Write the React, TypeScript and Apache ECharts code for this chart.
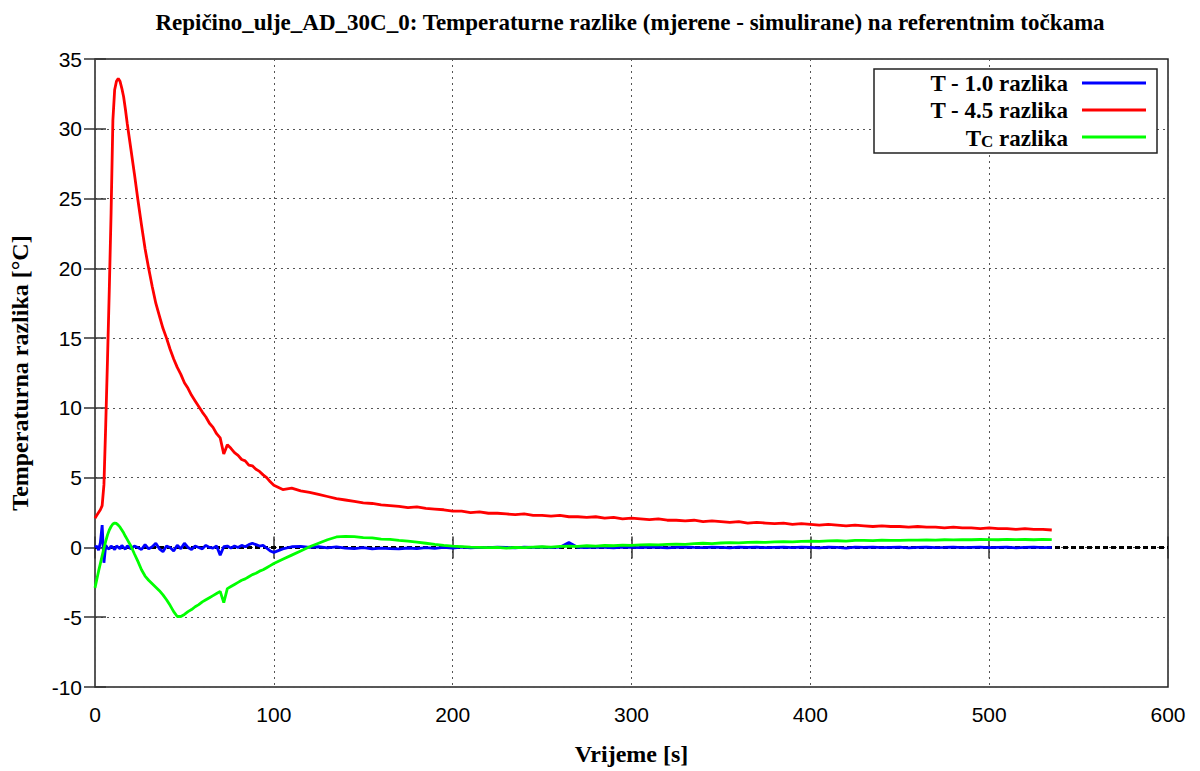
import React, { useEffect, useRef } from "react";
import * as echarts from "echarts";

// time samples [s]
const tEarly = [0, 1, 2, 3, 4, 5, 6, 7, 8, 9, 10, 11, 12, 13, 14, 15, 16, 17, 18, 19, 20];
const tMid = [22, 24, 26, 28, 30, 32, 34, 36, 38, 40, 42, 44, 46, 48, 50, 52, 54, 56, 58, 60,
  62, 64, 66, 68, 70, 72, 74, 76, 78, 80, 82, 84, 86, 88, 90, 92, 94, 96, 98, 100];
const tLate = [105, 110, 115, 120, 125, 130, 135, 140, 145, 150, 155, 160, 165, 170, 175, 180, 185, 190, 195, 200,
  205, 210, 215, 220, 225, 230, 235, 240, 245, 250, 255, 260, 265, 270, 275, 280, 285, 290, 295, 300,
  305, 310, 315, 320, 325, 330, 335, 340, 345, 350, 355, 360, 365, 370, 375, 380, 385, 390, 395, 400,
  405, 410, 415, 420, 425, 430, 435, 440, 445, 450, 455, 460, 465, 470, 475, 480, 485, 490, 495, 500,
  505, 510, 515, 520, 525, 530, 535];

// T - 1.0 razlika
const blueEarly = [0.0, 0.1, -0.2, 0.35, 1.6, -1.1, 0.15, -0.05, -0.1, 0.1, 0.0, -0.15, 0.1, 0.02, -0.1, 0.15, 0.0, -0.12, 0.1, 0.05, -0.1];
const blueMid = [0.1, 0.0, -0.15, 0.2, -0.1, 0.05, 0.3, -0.1, -0.3, 0.1, 0.0, -0.25, 0.15, -0.1, 0.3, 0.0, -0.15, 0.1, 0.0, -0.1,
  0.15, 0.0, -0.05, 0.1, -0.55, 0.05, 0.1, -0.05, 0.1, 0.0, 0.15, 0.05, 0.2, 0.3, 0.2, 0.1, 0.15, -0.05, -0.25, -0.35];
const blueLate = [-0.1, 0.05, 0.08, 0.0, 0.05, -0.03, 0.04, -0.05, -0.08, -0.02, -0.1, -0.05, -0.08, -0.1, -0.04, -0.08, -0.02, -0.06, 0.0, -0.04,
  0.02, -0.03, 0.01, -0.02, 0.03, 0.0, -0.03, 0.02, 0.0, 0.03, -0.02, 0.02, 0.35, 0.0, -0.02, 0.03, 0.0, -0.03, 0.02, 0.0,
  -0.02, 0.02, 0.0, -0.03, 0.01, 0.03, 0.0, -0.02, 0.02, 0.0, -0.03, 0.02, 0.0, 0.03, -0.02, 0.0, 0.02, -0.02, 0.03, 0.0,
  -0.03, 0.02, 0.0, -0.05, 0.02, 0.0, 0.03, -0.02, 0.0, 0.02, -0.03, 0.0, 0.02, -0.02, 0.0, 0.03, -0.02, 0.0, 0.02, -0.02,
  0.0, 0.02, -0.03, 0.0, 0.02, -0.02, 0.0];

// T - 4.5 razlika
const redEarly = [2.1, 2.3, 2.5, 2.7, 3.0, 4.5, 8.8, 13.5, 18.5, 24.0, 30.6, 32.8, 33.4, 33.6, 33.4, 32.9, 32.3, 31.4, 30.4, 29.5, 28.6];
const redMid = [26.8, 24.9, 23.1, 21.4, 20.0, 18.7, 17.5, 16.6, 15.7, 15.0, 14.2, 13.5, 12.9, 12.4, 11.8, 11.4, 10.9, 10.5, 10.1, 9.7,
  9.35, 8.9, 8.6, 8.15, 7.85, 6.7, 7.35, 7.1, 6.8, 6.6, 6.3, 6.2, 5.9, 5.85, 5.6, 5.45, 5.2, 5.0, 4.7, 4.45];
const redLate = [4.15, 4.25, 4.05, 3.95, 3.8, 3.65, 3.5, 3.4, 3.3, 3.2, 3.15, 3.05, 3.0, 2.95, 2.85, 2.9, 2.8, 2.75, 2.7, 2.6,
  2.6, 2.5, 2.55, 2.45, 2.45, 2.4, 2.35, 2.4, 2.3, 2.3, 2.25, 2.3, 2.2, 2.2, 2.15, 2.2, 2.1, 2.15, 2.05, 2.1,
  2.05, 2.0, 2.05, 1.95, 1.95, 1.9, 1.95, 1.85, 1.9, 1.85, 1.8, 1.85, 1.75, 1.8, 1.75, 1.7, 1.75, 1.65, 1.7, 1.65,
  1.6, 1.65, 1.6, 1.55, 1.6, 1.55, 1.5, 1.55, 1.5, 1.5, 1.45, 1.5, 1.45, 1.45, 1.4, 1.45, 1.4, 1.4, 1.35, 1.4,
  1.35, 1.35, 1.3, 1.35, 1.3, 1.3, 1.25];

// Tc razlika
const greenEarly = [-2.9, -2.3, -1.7, -1.15, -0.6, -0.05, 0.45, 0.9, 1.25, 1.5, 1.68, 1.75, 1.72, 1.6, 1.45, 1.25, 1.05, 0.8, 0.58, 0.35, 0.12];
const greenMid = [-0.45, -1.0, -1.6, -2.05, -2.35, -2.6, -2.85, -3.1, -3.4, -3.75, -4.15, -4.6, -4.95, -4.95, -4.8, -4.6, -4.45, -4.25, -4.1, -3.9,
  -3.75, -3.6, -3.45, -3.3, -3.15, -3.95, -2.95, -2.8, -2.65, -2.5, -2.35, -2.25, -2.1, -1.95, -1.85, -1.7, -1.6, -1.45, -1.3, -1.15];
const greenLate = [-0.85, -0.55, -0.25, 0.05, 0.3, 0.55, 0.75, 0.8, 0.78, 0.7, 0.68, 0.6, 0.58, 0.5, 0.45, 0.38, 0.3, 0.22, 0.15, 0.1,
  0.06, 0.02, 0.0, -0.02, 0.0, -0.05, 0.0, -0.02, 0.03, 0.05, 0.03, 0.08, 0.1, 0.08, 0.12, 0.1, 0.14, 0.12, 0.16, 0.15,
  0.18, 0.2, 0.18, 0.22, 0.24, 0.22, 0.27, 0.3, 0.28, 0.32, 0.34, 0.33, 0.37, 0.38, 0.36, 0.4, 0.42, 0.4, 0.44, 0.45,
  0.44, 0.47, 0.48, 0.46, 0.5, 0.5, 0.49, 0.52, 0.51, 0.5, 0.53, 0.52, 0.54, 0.53, 0.55, 0.54, 0.56, 0.55, 0.57, 0.56,
  0.55, 0.58, 0.56, 0.57, 0.55, 0.58, 0.56];

const xTicks = { min: 0, max: 600, interval: 100 };
const yTicks = { min: -10, max: 35, interval: 5 };

const titleText = "Repičino_ulje_AD_30C_0: Temperaturne razlike (mjerene - simulirane) na referentnim točkama";
const xName = "Vrijeme [s]";
const yName = "Temperaturna razlika [°C]";
const seriesNames = ["T - 1.0 razlika", "T - 4.5 razlika", "Tc razlika"];
const seriesColors = ["#0000ff", "#ff0000", "#00ff00"];

function zip(ts: number[][], vs: number[][]): [number, number][] {
  const out: [number, number][] = [];
  ts.forEach((seg, s) => seg.forEach((t, i) => {
    const v = vs[s][i];
    if (v !== undefined) out.push([t, v]);
  }));
  return out;
}

const SERIF = '"Liberation Serif", "Times New Roman", serif';
const SANS = '"Liberation Sans", Arial, sans-serif';

export default function App() {
  const ref = useRef<HTMLDivElement>(null);
  useEffect(() => {
    const chart = echarts.init(ref.current!, null, { renderer: "svg" });
    const T = [tEarly, tMid, tLate];
    const blue = zip(T, [blueEarly, blueMid, blueLate]);
    const red = zip(T, [redEarly, redMid, redLate]);
    const green = zip(T, [greenEarly, greenMid, greenLate]);

    const gridLine = { show: true, lineStyle: { color: "#555", width: 1, type: [2, 4] as any } };
    const tick = { show: true, inside: true, length: 11, lineStyle: { color: "#333", width: 1.5 } };

    const legendRows = [83, 110, 137];
    const legendGraphics: any[] = [
      {
        type: "rect",
        shape: { x: 874, y: 69, width: 283, height: 84 },
        style: { fill: "#fff", stroke: "#222", lineWidth: 1.5 },
        z: 100,
      },
    ];
    legendRows.forEach((y, i) => {
      const isTc = i === 2;
      legendGraphics.push({
        type: "text",
        x: 1068,
        y,
        z: 101,
        style: isTc
          ? {
              text: "{t|T}{c|C}{t| razlika}",
              textAlign: "right",
              textVerticalAlign: "middle",
              fill: "#000",
              rich: {
                t: { fontFamily: SERIF, fontWeight: "bold", fontSize: 23, lineHeight: 25, verticalAlign: "bottom" },
                c: { fontFamily: SERIF, fontWeight: "bold", fontSize: 17, lineHeight: 25, verticalAlign: "bottom" },
              },
            }
          : {
              text: seriesNames[i],
              textAlign: "right",
              textVerticalAlign: "middle",
              font: `bold 23px ${SERIF}`,
              fill: "#000",
            },
      });
      legendGraphics.push({
        type: "line",
        z: 101,
        shape: { x1: 1082, y1: y, x2: 1146, y2: y },
        style: { stroke: seriesColors[i], lineWidth: 3 },
      });
    });

    const option: any = {
      animation: false,
      backgroundColor: "#fff",
      grid: { left: 95, right: 32, top: 59, bottom: 80, show: true, borderColor: "#222", borderWidth: 1.5, backgroundColor: "transparent" },
      xAxis: [
        {
          type: "value",
          ...xTicks,
          position: "bottom",
          axisLine: { show: false },
          axisTick: tick,
          splitLine: gridLine,
          axisLabel: { color: "#000", fontFamily: SANS, fontSize: 21, margin: 17 },
          name: xName,
          nameLocation: "middle",
          nameGap: 55,
          nameTextStyle: { color: "#000", fontFamily: SERIF, fontWeight: "bold", fontSize: 24 },
        },
        {
          type: "value",
          ...xTicks,
          position: "top",
          axisLine: { show: false },
          axisTick: tick,
          splitLine: { show: false },
          axisLabel: { show: false },
        },
      ],
      yAxis: [
        {
          type: "value",
          ...yTicks,
          position: "left",
          axisLine: { show: false },
          axisTick: tick,
          splitLine: gridLine,
          axisLabel: { color: "#000", fontFamily: SANS, fontSize: 21, margin: 13 },
          name: yName,
          nameLocation: "middle",
          nameGap: 63,
          nameTextStyle: { color: "#000", fontFamily: SERIF, fontWeight: "bold", fontSize: 24 },
        },
        {
          type: "value",
          ...yTicks,
          position: "right",
          axisLine: { show: false },
          axisTick: tick,
          splitLine: { show: false },
          axisLabel: { show: false },
        },
      ],
      graphic: [
        {
          type: "text",
          x: 630,
          y: 22,
          style: { text: titleText, textAlign: "center", textVerticalAlign: "middle", font: `bold 23px ${SERIF}`, fill: "#000" },
        },
        ...legendGraphics,
      ],
      series: [
        {
          type: "line",
          name: "zero",
          data: [[0, 0], [600, 0]],
          symbol: "none",
          silent: true,
          z: 1,
          lineStyle: { color: "#000", width: 3, type: [5, 3] },
        },
        {
          type: "line",
          name: seriesNames[0],
          data: blue,
          symbol: "none",
          z: 2,
          lineStyle: { color: seriesColors[0], width: 2.8 },
          itemStyle: { color: seriesColors[0] },
        },
        {
          type: "line",
          name: seriesNames[1],
          data: red,
          symbol: "none",
          z: 3,
          lineStyle: { color: seriesColors[1], width: 2.8 },
          itemStyle: { color: seriesColors[1] },
        },
        {
          type: "line",
          name: seriesNames[2],
          data: green,
          symbol: "none",
          z: 4,
          lineStyle: { color: seriesColors[2], width: 2.8 },
          itemStyle: { color: seriesColors[2] },
        },
      ],
    };
    chart.setOption(option);
    return () => chart.dispose();
  }, []);
  return <div ref={ref} style={{ position: "absolute", left: 0, top: 0, width: 1200, height: 771 }} />;
}
